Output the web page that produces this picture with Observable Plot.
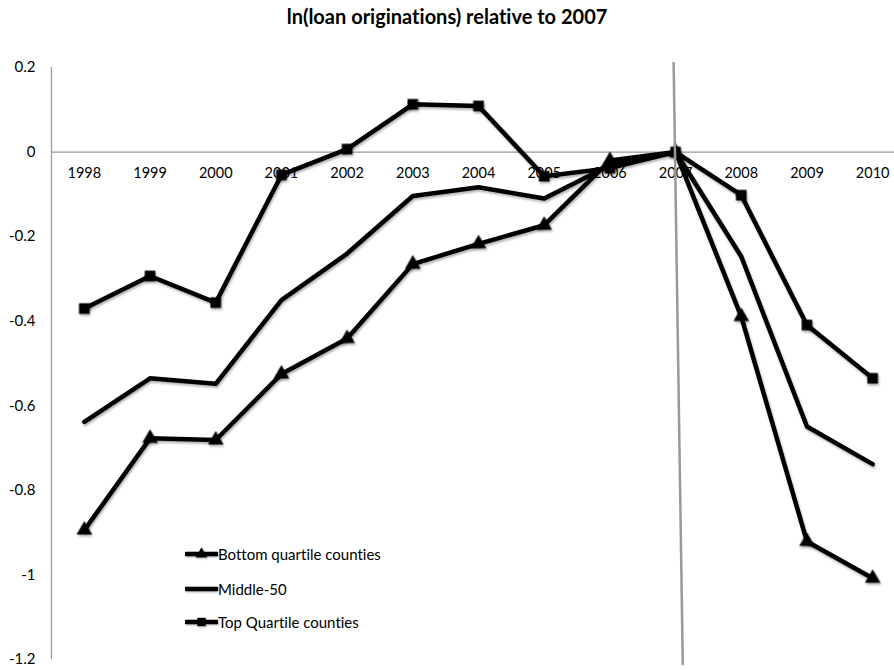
<!DOCTYPE html>
<html><head><meta charset="utf-8">
<script src="https://cdn.jsdelivr.net/npm/d3@7"></script>
<script src="https://cdn.jsdelivr.net/npm/@observablehq/plot@0.6"></script>
<style>
body{margin:0;background:#fff;font-family:Lato,sans-serif;font-variant-ligatures:none;}
#wrap{position:relative;width:894px;height:670px;}
#title{position:absolute;top:4px;left:0;width:894px;text-align:center;font-weight:bold;font-size:20px;color:#000;font-variant-ligatures:none;}
#chart{position:absolute;top:40px;left:0;}
#chart svg{font-variant-ligatures:none;}
.leg{position:absolute;left:185px;height:20px;display:flex;align-items:center;font-size:15px;color:#000;white-space:nowrap;}
.leg svg{display:block;filter:drop-shadow(1px 1.5px 1px rgba(0,0,0,0.3));}
</style></head><body>
<div id="wrap">
<div id="chart"></div>
<div id="title">ln(loan originations) relative to 2007</div>
<div id="legend"></div>
</div>
<script>
const years = [1998,1999,2000,2001,2002,2003,2004,2005,2006,2007,2008,2009,2010];
const bottomQuartile = [-0.894,-0.677,-0.681,-0.525,-0.441,-0.265,-0.217,-0.173,-0.020,0,-0.389,-0.921,-1.008];
const middle50 = [-0.638,-0.535,-0.548,-0.350,-0.240,-0.104,-0.083,-0.110,-0.031,0,-0.247,-0.649,-0.738];
const topQuartile = [-0.370,-0.293,-0.356,-0.054,0.007,0.113,0.109,-0.057,-0.038,0,-0.102,-0.409,-0.535];
const seriesNames = ["Bottom quartile counties","Middle-50","Top Quartile counties"];
const seriesSymbols = ["triangle", null, "square"];
const yTicks = [0.2,0,-0.2,-0.4,-0.6,-0.8,-1,-1.2];
const xDomain = [1997.5, 2010.5];
const yDomain = [-1.2, 0.2];
const refLine = [{x1: 2006.97, y1: 0.213, x2: 2007.11, y2: -1.213}];

const seriesValues = [bottomQuartile, middle50, topQuartile];
const data = seriesNames.flatMap((name, s) => years.map((yr, i) => ({year: yr, value: seriesValues[s][i], series: name})));

const chart = Plot.plot({
  width: 894, height: 630,
  marginLeft: 51, marginRight: 0, marginTop: 27, marginBottom: 11,
  x: {type: "linear", domain: xDomain, range: [51, 905], axis: null},
  y: {domain: yDomain, axis: null},
  style: {fontFamily: "Lato, sans-serif", color: "#000", background: "#fff", overflow: "visible"},
  marks: [
    Plot.ruleX([xDomain[0]], {y1: yDomain[0], y2: yDomain[1], stroke: "#999", strokeWidth: 1.3}),
    Plot.ruleY([0], {stroke: "#999", strokeWidth: 1.3}),
    Plot.axisY(yTicks, {tickSize: 0, tickPadding: 16, tickFormat: d => String(d), fontSize: 15}),
    Plot.text(years, {x: d => d, y: 0, text: d => String(d), dy: 21, fontSize: 14.5, fill: "#000"}),
    Plot.line(data, {x: "year", y: "value", z: "series", stroke: "#000", strokeWidth: 4.5, strokeLinejoin: "round", strokeLinecap: "round"}),
    Plot.dot(data.filter(d => d.series === seriesNames[0]), {x: "year", y: "value", symbol: "triangle", r: 5.8, fill: "#000"}),
    Plot.dot(data.filter(d => d.series === seriesNames[2]), {x: "year", y: "value", symbol: "square", r: 6, fill: "#000"}),
    Plot.link(refLine, {x1: "x1", y1: "y1", x2: "x2", y2: "y2", stroke: "#999", strokeWidth: 2.5})
  ]
});
d3.select(chart).selectAll('g[aria-label="line"], g[aria-label="dot"]')
  .style("filter", "drop-shadow(1px 2px 1.2px rgba(0,0,0,0.3))");
document.getElementById("chart").appendChild(chart);

// legend
const legendTops = [554, 589, 622];
const legend = document.getElementById("legend");
seriesNames.forEach((name, i) => {
  const row = document.createElement("div");
  row.className = "leg";
  row.style.top = (legendTops[i] - 10) + "px";
  const svg = d3.create("svg").attr("width", 33).attr("height", 20);
  svg.append("line").attr("x1", 1).attr("x2", 32).attr("y1", 10).attr("y2", 10).attr("stroke", "#000").attr("stroke-width", 4.5).attr("stroke-linecap", "round");
  if (seriesSymbols[i]) {
    const sym = seriesSymbols[i] === "triangle" ? d3.symbolTriangle : d3.symbolSquare;
    svg.append("path").attr("d", d3.symbol(sym, seriesSymbols[i] === "triangle" ? 60 : 70)()).attr("transform", "translate(16.5,10)").attr("fill", "#000");
  }
  row.appendChild(svg.node());
  const t = document.createElement("span");
  t.textContent = name;
  row.appendChild(t);
  legend.appendChild(row);
});
</script>
</body></html>
